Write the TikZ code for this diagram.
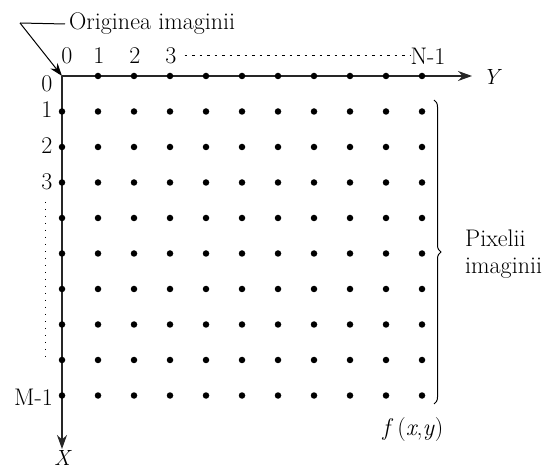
\documentclass[tikz,border=0pt]{standalone}
\usepackage{fontspec}
\usetikzlibrary{arrows.meta,decorations.pathreplacing}
\begin{document}
\begin{tikzpicture}[x=1pt,y=-1pt,
  lbl/.style={font=\fontsize{24}{27}\selectfont, inner sep=0pt},
  ilbl/.style={font=\fontsize{22}{25}\selectfont\itshape, inner sep=0pt},
  axis/.style={line width=1.3pt, draw=black!85},
  tip/.style={-{Stealth[length=14pt,width=10pt]}},
  pix/.style={circle, fill=black, inner sep=0pt, minimum size=6.5pt}]
\useasboundingbox (0,0) rectangle (549,470);
% axes
\coordinate (O) at (62,76);
\coordinate (Yend) at (472,76);
\coordinate (Xend) at (62,449);
\draw[axis,tip] (O) -- (Yend);
\draw[axis,tip] (O) -- (Xend);
\node[ilbl] (Ylab) at (491,77) {Y};
\node[ilbl] (Xlab) at (62,458) {X};
% pixels
\foreach \r in {0,...,9}{
  \foreach \c in {0,...,10}{
    \ifnum\numexpr\r+\c\relax>0
      \node[pix] (d-\r-\c) at ({62+36*\c},{76+35.5*\r}) {};
    \fi
  }
}
% column labels
\node[lbl] (c0) at (67,56) {0};
\node[lbl] (c1) at (99,56) {1};
\node[lbl] (c2) at (135,56) {2};
\node[lbl] (c3) at (171,56) {3};
\node[lbl] (cN) at (428,56) {N-1};
\draw[line width=0.8pt, dash pattern=on 2.5pt off 5pt] (c3.east) ++(8,-1) coordinate (cd1) -- (cN.west |- cd1) ++(-6,0);
% row labels
\node[lbl] (r0) at (47,84) {0};
\node[lbl] (r1) at (47,110) {1};
\node[lbl] (r2) at (47,146) {2};
\node[lbl] (r3) at (47,182) {3};
\node[lbl, anchor=east] (rM) at (53,397) {M-1};
\coordinate (rd1) at (45,202);
\coordinate (rd2) at (45,358);
\draw[line width=0.9pt, dash pattern=on 1.5pt off 5.5pt] (rd1) -- (rd2);
% origin label
\node[lbl, anchor=west] (orig) at (69,24) {Originea imaginii};
\coordinate (ob) at (20,23);
\draw[line width=1pt] (orig.west) ++(-4,0) -- (ob);
\draw[line width=1pt, -{Stealth[length=13pt,width=9pt]}] (ob) -- (O);
% brace
\coordinate (b1) at (434,100);
\coordinate (b2) at (434,404);
\draw[line width=1pt, decorate, decoration={brace, amplitude=7pt}] (b1) -- (b2);
\node[lbl, anchor=west, align=left] (pixl) at (465,254) {Pixelii\\imaginii};
\node[lbl] (fxy) at (413,430) {\textit{f}\,(\textit{x},\textit{y})};
\end{tikzpicture}
\end{document}
